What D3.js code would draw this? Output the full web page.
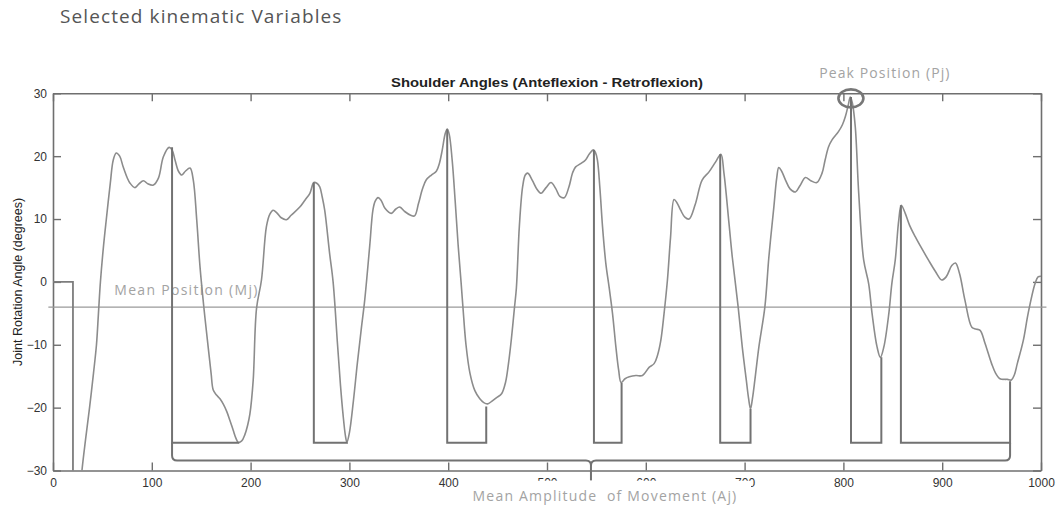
<!DOCTYPE html>
<html>
<head>
<meta charset="utf-8">
<script src="https://cdn.jsdelivr.net/npm/d3@7"></script>
<style>
  html, body { margin: 0; padding: 0; background: #fff; }
  svg { display: block; }
</style>
</head>
<body>
<div id="chart"></div>
<script>
'use strict';

// onset artefact (flat, then sudden drop)
const onsetFrame = [0, 20.2, 20.2];
const onsetDeg = [0, 0, -36];

// shoulder angle trace
const angleFrame = [
    26, 29.3, 33, 37, 41, 44, 46, 48, 51, 54, 58, 61, 64, 67.5, 71, 75, 78, 83, 87, 91.5,
    96, 101.6, 106.7, 111.7, 117.5, 120.5, 123.5, 127, 130.3, 134, 138.7, 142, 145.5, 148.8, 152.8, 157,
    160, 162.2, 165.5, 169, 172.5, 175.8, 179, 182.4, 185, 187.5, 191, 194.2, 197, 199.3, 202.6, 206,
    211, 216, 219.5, 222.8, 227, 231, 236.3, 241, 249.8, 255, 260, 264, 267, 270, 272.5, 275,
    280, 283.5, 288, 291, 293.5, 296, 297.5, 300, 304, 308, 312, 315.5, 320.5, 323.8, 326, 329,
    332, 336, 342.4, 347, 351, 356, 362, 366, 370, 374, 377.7, 383, 388, 391, 394, 397,
    399, 401, 404, 407, 410, 413, 415, 418, 422, 427, 432, 436, 440, 444, 449, 454,
    458, 461, 464, 467, 469, 472, 475.3, 478, 480.5, 485, 490, 494, 499, 504, 509, 513,
    517.5, 522, 526, 529, 534, 539, 543, 547, 549, 551, 553.5, 556.2, 559.5, 563, 566.3, 569.7,
    572.5, 575, 579, 583.3, 590, 596.6, 603.3, 608.4, 611.8, 615.2, 618.5, 621.9, 625, 628.6, 631.5, 635.3,
    639.5, 643.8, 650, 657, 664, 670.7, 676, 679.1, 684.2, 687.5, 693.5, 697.6, 701.7, 704, 706, 708,
    710.4, 714.5, 720.5, 724.6, 729.6, 732.5, 734.6, 737.5, 741.4, 746, 751.5, 756, 761.6, 767, 773, 778.4,
    781.5, 785, 788.5, 795, 799, 802, 805, 807, 809, 812, 815.5, 820.5, 825.6, 829, 834, 837.4,
    841, 846, 849, 852.5, 856, 858.6, 862.6, 867, 872.7, 879, 886, 893, 899.6, 904, 909.7, 913.4,
    917.6, 923, 930, 934, 938.4, 943.4, 950, 954, 958.5, 963.5, 966, 970, 973, 976, 982.1, 987,
    993.9, 997, 1000
];
const angleDeg = [
    -36, -30, -25, -20, -14.5, -10, -5, 0, 5.5, 10, 15.7, 19.4, 20.5, 20, 18.3, 16.6, 15.7, 15, 15.6, 16.1,
    15.6, 15.4, 16.5, 19.9, 21.4, 21, 19.4, 17.6, 17, 17.6, 18.1, 16.2, 9.8, 2.4, -4.2, -10.3,
    -14.5, -17.2, -18, -18.6, -19.5, -20.6, -22, -23.6, -24.8, -25.5, -25.3, -24.3, -22.8, -21, -15.7, -4.2,
    0.3, 8.8, 10.8, 11.4, 10.9, 10.2, 9.9, 10.6, 11.9, 13, 14.1, 15.8, 15.7, 15.1, 13.5, 11.4,
    4.5, 0, -10, -16.5, -21, -24.5, -25.5, -24, -19, -13, -7.5, -2.9, 5.6, 11.4, 12.8, 13.4,
    13, 11.7, 10.9, 11.6, 11.9, 11.2, 10.6, 10.5, 12.5, 14.8, 16.2, 17, 17.6, 18.8, 21, 23.6,
    24.3, 23.5, 19.4, 13, 6, 0, -4.2, -10, -14.5, -17.3, -18.6, -19.2, -19.4, -19, -18.4, -17.8,
    -16, -13, -9, -4.2, -1, 8.8, 15.1, 17, 17.3, 16.2, 14.7, 14.1, 15, 15.8, 14.8, 13.6,
    13.4, 15, 17.4, 18.3, 18.8, 19.4, 20.4, 21, 20.6, 19.4, 15, 8.8, 3, -1, -5, -10.3,
    -14, -16, -15.4, -15.1, -14.9, -14.9, -13.6, -13, -11.7, -9.3, -5, 0.3, 7, 13.1, 12.6, 11.4,
    10.3, 10, 12.3, 16.2, 17.5, 19.1, 20.3, 17.3, 9.3, 4, -4, -10.3, -15.6, -18.5, -20.2, -18.5,
    -15.6, -10.3, -4, 4, 11.9, 16.5, 18.2, 17.6, 16.2, 14.8, 14.3, 15.3, 16.6, 16.1, 15.8, 17.3,
    19.4, 21.5, 22.6, 23.9, 25, 26.3, 28.2, 29.4, 28.5, 24.7, 14.1, 3.5, -0.3, -5, -10.3, -12,
    -10.3, -5, -0.3, 3.5, 9.8, 12.2, 10.9, 9, 7.2, 5.4, 3.5, 1.7, 0.3, 0.8, 2.6, 3,
    1.3, -2.9, -7.2, -7.5, -7.7, -9.8, -13, -14.5, -15.4, -15.5, -15.5, -15.6, -14.8, -13, -9.3, -5,
    -0.3, 0.8, 0.9
];

// amplitude markers: peak -> base -> trough
const peakFrame = [120.5, 264, 399, 547.5, 675.3, 807.7, 858.2];
const peakDeg = [21.4, 15.8, 24.3, 21, 20.3, 29.4, 12.2];
const troughFrame = [187.5, 297.5, 438.5, 575.5, 706, 838.4, 968.7];
const troughDeg = [-25.5, -25.5, -19.8, -16.1, -20.2, -12, -15.8];
const baseDeg = -25.6;

// mean position and brace
const meanDeg = -4;
const meanSpan = [-4.7, 1005.5];
const braceFrames = [120.5, 544.5, 968.7];
const braceDeg = [-28.4, -31.6];

// peak highlight
const peakMark = {frame: 807.6, deg: 29.2};

const xTicks = [0, 100, 200, 300, 400, 500, 600, 700, 800, 900, 1000];
const yTicks = [-30, -20, -10, 0, 10, 20, 30];

const W = 1057, H = 506;
const margin = {top: 93.3, right: 16, bottom: 35.5, left: 53};
const width = W - margin.left - margin.right,
    height = H - margin.top - margin.bottom;

const svg = d3.select('#chart').append('svg')
    .attr('width', W)
    .attr('height', H);

svg.append('text')
    .attr('x', 60)
    .attr('y', 23)
    .attr('fill', '#555')
    .style('font-family', '"Open Sans", sans-serif')
    .style('font-size', '19px')
    .style('letter-spacing', '1.1px')
    .text('Selected kinematic Variables');

const g = svg.append('g')
    .attr('transform', `translate(${margin.left},${margin.top})`);

const x = d3.scaleLinear().domain([0, 1000]).range([0, width]);
const y = d3.scaleLinear().domain([-30, 30]).range([height, 0]);

g.append('defs').append('clipPath').attr('id', 'plot-clip')
  .append('rect').attr('width', width).attr('height', height);

// axes (MATLAB-like box with inward ticks)
const axisFont = '"Liberation Sans", Arial, sans-serif';
function styleAxis(sel) {
    sel.select('.domain').attr('stroke', '#6f6f6f').attr('stroke-width', 1.6);
    sel.selectAll('.tick line').attr('stroke', '#6f6f6f').attr('stroke-width', 1.4);
    sel.selectAll('.tick text')
        .attr('fill', '#333')
        .style('font-family', axisFont)
        .style('font-size', '12px');
}

g.append('g')
    .attr('transform', `translate(0,${height})`)
    .call(d3.axisBottom(x).tickValues(xTicks).tickFormat(d3.format('d'))
        .tickSize(-8).tickSizeOuter(0).tickPadding(8))
    .call(styleAxis);
g.append('g')
    .call(d3.axisLeft(y).tickValues(yTicks).tickSize(-8).tickSizeOuter(0).tickPadding(6))
    .call(styleAxis);
g.append('g')
    .call(d3.axisTop(x).tickValues(xTicks).tickSize(-8).tickSizeOuter(0).tickFormat(''))
    .call(styleAxis);
g.append('g')
    .attr('transform', `translate(${width},0)`)
    .call(d3.axisRight(y).tickValues(yTicks).tickSize(-8).tickSizeOuter(0).tickFormat(''))
    .call(styleAxis);

// titles (source figure was stretched sideways)
g.append('text')
    .attr('x', width / 2)
    .attr('y', -6)
    .attr('text-anchor', 'middle')
    .attr('fill', '#222')
    .attr('textLength', 312)
    .attr('lengthAdjust', 'spacingAndGlyphs')
    .style('font-family', axisFont)
    .style('font-size', '12.5px')
    .style('font-weight', 'bold')
    .text('Shoulder Angles (Anteflexion - Retroflexion)');

svg.append('text')
    .attr('transform', `translate(22,${margin.top + height / 2}) rotate(-90)`)
    .attr('text-anchor', 'middle')
    .attr('fill', '#222')
    .style('font-family', axisFont)
    .style('font-size', '12.5px')
    .text('Joint Rotation Angle (degrees)');

// mean position line
g.append('line')
    .attr('x1', x(meanSpan[0])).attr('x2', x(meanSpan[1]))
    .attr('y1', y(meanDeg)).attr('y2', y(meanDeg))
    .attr('stroke', '#9a9a9a')
    .attr('stroke-width', 1.2);

g.append('text')
    .attr('x', x(62))
    .attr('y', y(meanDeg) - 12)
    .attr('fill', '#a3a3a3')
    .style('font-family', '"Open Sans", sans-serif')
    .style('font-size', '14px')
    .style('letter-spacing', '1.3px')
    .text('Mean Position (Mj)');

const plot = g.append('g').attr('clip-path', 'url(#plot-clip)');

// onset segment
plot.append('path')
    .datum(onsetFrame.map((f, i) => [f, onsetDeg[i]]))
    .attr('fill', 'none')
    .attr('stroke', '#7d7d7d')
    .attr('stroke-width', 1.8)
    .attr('d', d3.line().x(d => x(d[0])).y(d => y(d[1])));

// the trace
plot.append('path')
    .datum(angleFrame.map((f, i) => [f, angleDeg[i]]))
    .attr('fill', 'none')
    .attr('stroke', '#8c8c8c')
    .attr('stroke-width', 1.6)
    .attr('d', d3.line().curve(d3.curveCatmullRom).x(d => x(d[0])).y(d => y(d[1])));

// amplitude markers
plot.selectAll('path.amp')
    .data(peakFrame.map((f, i) => ({pf: f, pd: peakDeg[i], tf: troughFrame[i], td: troughDeg[i]})))
    .join('path')
    .attr('class', 'amp')
    .attr('fill', 'none')
    .attr('stroke', '#727272')
    .attr('stroke-width', 2)
    .attr('d', d => `M${x(d.pf)},${y(d.pd)}V${y(baseDeg)}H${x(d.tf)}V${y(d.td)}`);

// brace under the markers
const r = 5;
const bx0 = x(braceFrames[0]), bxm = x(braceFrames[1]), bx1 = x(braceFrames[2]);
const by = y(braceDeg[0]), tip = y(braceDeg[1]);
g.append('path')
    .attr('fill', 'none')
    .attr('stroke', '#727272')
    .attr('stroke-width', 2)
    .attr('d', `M${bx0},${y(baseDeg)}V${by - r}Q${bx0},${by} ${bx0 + r},${by}` +
        `H${bxm - r}Q${bxm},${by} ${bxm},${by + r}V${tip}` +
        `M${bxm},${by + r}Q${bxm},${by} ${bxm + r},${by}` +
        `H${bx1 - r}Q${bx1},${by} ${bx1},${by - r}V${y(baseDeg)}`);

// peak circle
g.append('ellipse')
    .attr('cx', x(peakMark.frame))
    .attr('cy', y(peakMark.deg))
    .attr('rx', 12.5)
    .attr('ry', 9)
    .attr('fill', 'none')
    .attr('stroke', '#777')
    .attr('stroke-width', 2.6);

g.append('text')
    .attr('x', x(peakMark.frame) + 34)
    .attr('y', -15)
    .attr('text-anchor', 'middle')
    .attr('fill', '#a3a3a3')
    .style('font-family', '"Open Sans", sans-serif')
    .style('font-size', '14px')
    .style('letter-spacing', '1.1px')
    .text('Peak Position (Pj)');

// amplitude annotation box (sits over the middle tick labels)
svg.append('rect')
    .attr('x', 470)
    .attr('y', 480.8)
    .attr('width', 281)
    .attr('height', 25)
    .attr('fill', '#fff');

svg.append('text')
    .attr('x', 605)
    .attr('y', 501)
    .attr('text-anchor', 'middle')
    .attr('fill', '#a3a3a3')
    .style('font-family', '"Open Sans", sans-serif')
    .style('font-size', '14px')
    .style('letter-spacing', '1.2px')
    .attr('xml:space', 'preserve')
    .text('Mean Amplitude  of Movement (Aj)');
</script>
</body>
</html>
